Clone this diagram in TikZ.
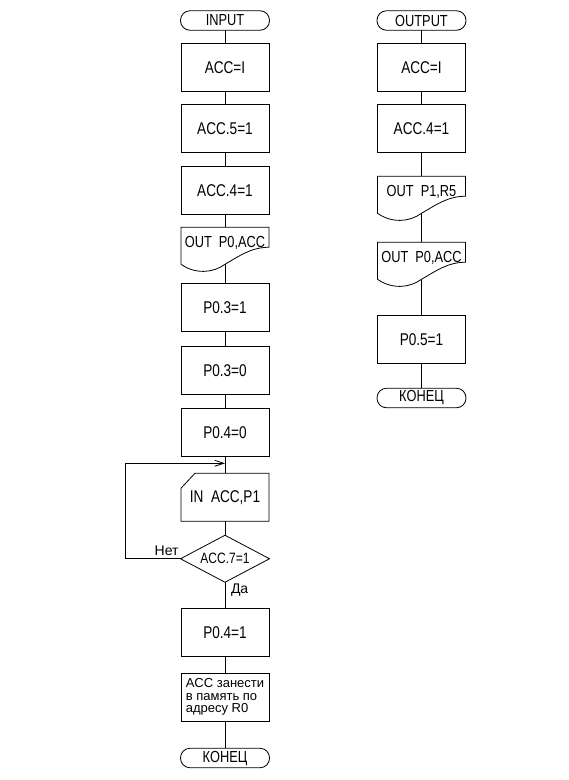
\documentclass[tikz,border=0pt]{standalone}
\usepackage{fontspec}
\setmainfont{Liberation Sans}[FakeStretch=0.8]
\newfontfamily\smallfont{Liberation Sans}
\usetikzlibrary{positioning,shapes.geometric,arrows.meta}

% outline of a "document" block (wavy bottom)
\newcommand{\docshape}[1]{%
  \draw (#1.south)
    .. controls ([shift={(32,46)}]#1.north west) and ([shift={(14,47)}]#1.north west) .. ([shift={(0,37)}]#1.north west)
    -- (#1.north west) -- (#1.north east) -- ([shift={(0,20)}]#1.north east)
    .. controls ([shift={(70,20)}]#1.north west) and ([shift={(58,29)}]#1.north west) .. (#1.south);}
% outline of an input block (cut corner)
\newcommand{\cardshape}[1]{%
  \draw ([shift={(14,0)}]#1.north west) -- (#1.north east) -- (#1.south east)
    -- (#1.south west) -- ([shift={(0,15)}]#1.north west) -- cycle;}

\begin{document}
\begin{tikzpicture}[x=1pt, y=-1pt, line width=0.8pt, node distance=13pt,
	every node/.style={inner sep=0pt, outer sep=0pt, font=\fontsize{17}{19}\selectfont},
	box/.style={draw, rectangle, minimum width=88pt, minimum height=48pt},
	term/.style={draw, rectangle, rounded corners=9.5pt, minimum width=89pt, minimum height=19.5pt, font=\fontsize{16}{18}\selectfont},
	docu/.style={rectangle, minimum width=88pt, text height=18pt, text depth=15pt, inner ysep=2pt, font=\fontsize{16}{18}\selectfont},
	card/.style={rectangle, minimum width=88pt, minimum height=48pt},
	dec/.style={draw, diamond, aspect=1.9, minimum width=89pt, minimum height=47pt, font=\fontsize{15}{17}\selectfont},
	lbl/.style={font=\smallfont\fontsize{14}{16}\selectfont}]
	\useasboundingbox (0,0) rectangle (569,780);

	% INPUT
	\node[term] (in) at (225,20.5) {INPUT};
	\node[box, below=of in] (accI) {ACC=I};
	\node[box, below=of accI] (acc5) {ACC.5=1};
	\node[box, below=14pt of acc5] (acc4) {ACC.4=1};
	\node[docu, below=of acc4] (outP0) {OUT\ \ P0,ACC};
	\node[box, below=19pt of outP0] (p03s) {P0.3=1};
	\node[box, below=15pt of p03s] (p03c) {P0.3=0};
	\node[box, below=14pt of p03c] (p04c) {P0.4=0};
	\node[card, below=17pt of p04c] (inP1) {IN\ \ ACC,P1};
	\node[dec, below=14pt of inP1] (acc7) {ACC.7=1};
	\node[box, below=26pt of acc7] (p04s) {P0.4=1};
	\node[box, below=17pt of p04s, align=left, font=\smallfont\fontsize{13}{12.5}\selectfont] (mem) {ACC занести\\в память по\\адресу R0};
	\node[term, below=27pt of mem] (endL) {КОНЕЦ};
	\node[lbl, above left=3pt and 2pt of acc7.west] (no) {Нет};
	\node[lbl, below right=2pt and 6pt of acc7.south] (yes) {Да};
	\coordinate[below=7pt of p04c] (loopin);

	% OUTPUT
	\node[term] (outp) at (421.5,20.5) {OUTPUT};
	\node[box, below=of outp] (accI2) {ACC=I};
	\node[box, below=of accI2] (acc42) {ACC.4=1};
	\node[docu, below=24pt of acc42] (outP1) {OUT\ \ P1,R5};
	\node[docu, below=29pt of outP1] (outP02) {OUT\ \ P0,ACC};
	\node[box, below=36pt of outP02] (p05s) {P0.5=1};
	\node[term, below=25pt of p05s] (endR) {КОНЕЦ};

	\docshape{outP0}
	\docshape{outP1}
	\docshape{outP02}
	\cardshape{inP1}

	\draw (in) -- (accI) -- (acc5) -- (acc4) -- (outP0) -- (p03s) -- (p03c) -- (p04c) -- (inP1) -- (acc7) -- (p04s) -- (mem) -- (endL);
	\draw[-{Straight Barb[length=9pt,width=6pt]}] (acc7.west) -- ++(-55,0) |- (loopin);
	\draw (outp) -- (accI2) -- (acc42) -- (outP1) -- (outP02) -- (p05s) -- (endR);
\end{tikzpicture}
\end{document}
